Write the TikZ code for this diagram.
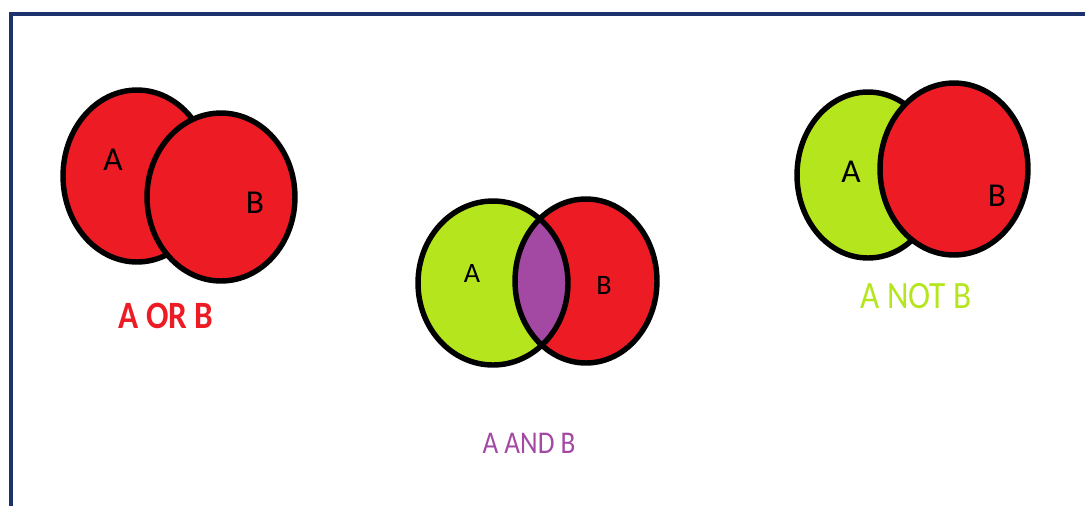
\documentclass[tikz,border=0pt]{standalone}
\usepackage{fontspec}
\setmainfont{Carlito}
\usepackage{tikz}
\usetikzlibrary{shapes.geometric}

\definecolor{setred}{RGB}{237,28,36}
\definecolor{setgreen}{RGB}{181,230,29}
\definecolor{setpurple}{RGB}{163,73,164}
\definecolor{framenavy}{RGB}{28,50,108}

\begin{document}
\begin{tikzpicture}[x=0.02cm,y=-0.02cm,
	set node/.style={ellipse,draw=black,line width=3.1pt,inner sep=0pt},
	letter/.style={font=\fontsize{19}{19}\selectfont,inner sep=0pt},
	small letter/.style={font=\fontsize{16}{16}\selectfont,inner sep=0pt},
	caption/.style={font=\fontsize{22}{22}\selectfont,xscale=0.86,inner sep=0pt}]
	
	\useasboundingbox (0,0) rectangle (1085,505);
	\draw[framenavy,line width=2.2pt] (11,520) -- (11,14) -- (1100,14);
	
	% A OR B
	\node[set node,fill=setred,minimum width=2.96cm,minimum height=3.44cm] (orA) at (137,176) {};
	\node[set node,fill=setred,minimum width=2.96cm,minimum height=3.36cm] (orB) at (221,197) {};
	\node[letter] (orAl) at (113,160) {A};
	\node[letter] (orBl) at (255,203) {B};
	\node[caption,text=setred,font=\fontsize{22}{22}\selectfont\bfseries] (orcap) at (166,316) {A OR B};
	
	% A AND B
	\node[set node,draw=none,fill=setgreen,minimum width=3cm,minimum height=3.28cm] (andA) at (493,283) {};
	\node[set node,draw=none,fill=setred,minimum width=2.84cm,minimum height=3.28cm] (andB) at (586,281) {};
	\begin{scope}
		\clip (andA.center) ellipse [x radius=1.5cm,y radius=1.64cm];
		\fill[setpurple] (andB.center) ellipse [x radius=1.42cm,y radius=1.64cm];
	\end{scope}
	\draw[line width=3.1pt] (andA.center) ellipse [x radius=1.5cm,y radius=1.64cm]
		(andB.center) ellipse [x radius=1.42cm,y radius=1.64cm];
	\node[small letter] (andAl) at (472,273) {A};
	\node[small letter] (andBl) at (604,285) {B};
	\node[caption,text=setpurple,font=\fontsize{18}{18}\selectfont] (andcap) at (529,443) {A AND B};
	
	% A NOT B
	\node[set node,fill=setgreen,minimum width=2.84cm,minimum height=3.32cm] (notA) at (868,175) {};
	\node[set node,fill=setred,minimum width=2.96cm,minimum height=3.44cm] (notB) at (954,169) {};
	\node[letter] (notAl) at (851,172) {A};
	\node[letter] (notBl) at (997,196) {B};
	\node[caption,text=setgreen] (notcap) at (916,296) {A NOT B};
	
\end{tikzpicture}
\end{document}
